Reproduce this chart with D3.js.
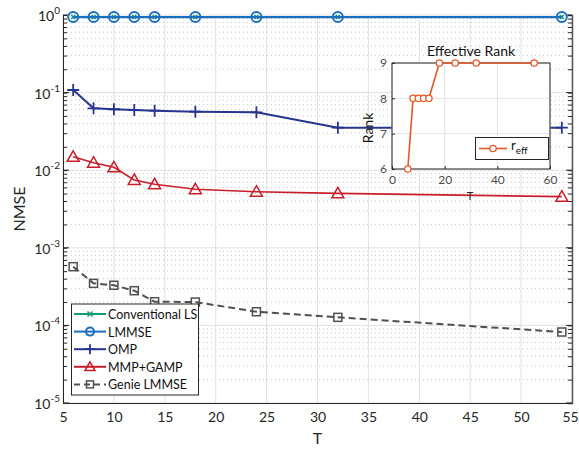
<!DOCTYPE html>
<html><head><meta charset="utf-8">
<script src="https://cdn.jsdelivr.net/npm/d3@7"></script>
<style>body{margin:0;background:#fff}svg{display:block}text{font-family:Lato,"Open Sans",sans-serif}</style>
</head><body>
<script>
const T = [6, 8, 10, 12, 14, 18, 24, 32, 54];
const convLS = [0.94, 0.94, 0.94, 0.94, 0.94, 0.94, 0.94, 0.94, 0.94];
const lmmse = [0.94, 0.94, 0.94, 0.94, 0.94, 0.94, 0.94, 0.94, 0.94];
const omp = [0.108, 0.0627, 0.061, 0.0597, 0.0585, 0.0568, 0.0557, 0.0353, 0.0353];
const mmpGamp = [0.0149, 0.0125, 0.0109, 0.00748, 0.00658, 0.00567, 0.00528, 0.00503, 0.00456];
const genie = [0.000571, 0.000348, 0.000329, 0.00028, 0.000202, 0.0002, 0.00015, 0.000127, 0.0000822];
const rankT = [6, 8, 10, 12, 14, 18, 24, 32, 54];
const rankEff = [6, 8, 8, 8, 8, 9, 9, 9, 9];
const xTicks = [5, 10, 15, 20, 25, 30, 35, 40, 45, 50, 55];
const yExps = [0, -1, -2, -3, -4, -5];
const seriesNames = ["Conventional LS", "LMMSE", "OMP", "MMP+GAMP", "Genie LMMSE"];
const insetXTicks = [0, 20, 40, 60];
const insetYTicks = [6, 7, 8, 9];

const W = 579, H = 452;
const L = 63, R = 572, Tp = 15, B = 403;
const FONT = "Lato";
const svg = d3.select("body").append("svg").attr("width", W).attr("height", H);
const x = d3.scaleLinear().domain([5, 55]).range([L, R]);
const y = d3.scaleLog().domain([1e-5, 1]).range([B, Tp]);

const g = svg.append("g");
const minor = [];
for (let e = -5; e < 0; e++) for (let k = 2; k <= 9; k++) minor.push(k * Math.pow(10, e));
g.selectAll(".mg").data(minor).enter().append("line")
  .attr("x1", L).attr("x2", R).attr("y1", d => y(d)).attr("y2", d => y(d))
  .attr("stroke", "#c8c8c8").attr("stroke-width", 1).attr("stroke-dasharray", "1,3");
g.selectAll(".xg").data(xTicks).enter().append("line")
  .attr("x1", d => x(d)).attr("x2", d => x(d)).attr("y1", Tp).attr("y2", B)
  .attr("stroke", "#e0e0e0").attr("stroke-width", 1);
g.selectAll(".yg").data(yExps).enter().append("line")
  .attr("x1", L).attr("x2", R).attr("y1", d => y(Math.pow(10, d))).attr("y2", d => y(Math.pow(10, d)))
  .attr("stroke", "#e0e0e0").attr("stroke-width", 1);

const xAx = d3.axisBottom(x).tickValues(xTicks).tickSize(0).tickPadding(9);
const xg = svg.append("g").attr("transform", `translate(0,${B})`).call(xAx);
xg.select(".domain").attr("stroke", "#262626").attr("stroke-width", 1);
xg.selectAll("text").attr("font-size", 14).attr("fill", "#262626").attr("font-family", FONT)
  .attr("dx", d => d === 55 ? -2 : 0);
const allY = minor.concat(yExps.map(e => Math.pow(10, e)));
const ygL = svg.append("g").attr("transform", `translate(${L},0)`).call(d3.axisLeft(y).tickValues(allY).tickSize(-4).tickFormat(""));
ygL.select(".domain").attr("stroke", "#262626");
ygL.selectAll(".tick line").attr("stroke", "#262626");
const ygR = svg.append("g").attr("transform", `translate(${R},0)`).call(d3.axisRight(y).tickValues(allY).tickSize(-4).tickFormat(""));
ygR.select(".domain").attr("stroke", "#555").attr("stroke-width", 1.5);
ygR.selectAll(".tick line").attr("stroke", "#262626");
svg.selectAll(".ymaj").data(yExps).enter().append("line")
  .attr("x1", L).attr("x2", L + 6).attr("y1", d => y(Math.pow(10, d))).attr("y2", d => y(Math.pow(10, d)))
  .attr("stroke", "#262626");
svg.selectAll(".ymajr").data(yExps).enter().append("line")
  .attr("x1", R - 6).attr("x2", R).attr("y1", d => y(Math.pow(10, d))).attr("y2", d => y(Math.pow(10, d)))
  .attr("stroke", "#262626");
const yl = svg.selectAll(".ytl").data(yExps).enter().append("text")
  .attr("x", L - 3).attr("y", d => y(Math.pow(10, d)) + 6)
  .attr("text-anchor", "end").attr("font-size", 14).attr("fill", "#262626");
yl.append("tspan").text("10");
yl.append("tspan").attr("dy", -7).attr("font-size", 10).text(d => String(d));

svg.append("text").attr("x", (L + R) / 2).attr("y", 444).attr("text-anchor", "middle")
  .attr("font-size", 16).attr("fill", "#262626").text("T");
svg.append("text").attr("transform", `translate(25,${(Tp + B) / 2}) rotate(-90)`)
  .attr("text-anchor", "middle").attr("font-size", 16).attr("fill", "#262626").text("NMSE");

const line = d3.line().x(d => x(d[0])).y(d => y(d[1]));
function pts(v) { return T.map((t, i) => [t, v[i]]); }

const cLS = "#139a72", cLM = "#1a6fc0", cOMP = "#27348f", cMMP = "#c81d2a", cG = "#505050";

function xMark(sel, c, s) {
  sel.append("path").attr("d", `M${-s},${-s}L${s},${s}M${-s},${s}L${s},${-s}`).attr("stroke", c).attr("stroke-width", 1.5).attr("fill", "none");
}
function circMark(sel, c, r) { sel.append("circle").attr("r", r).attr("fill", "none").attr("stroke", c).attr("stroke-width", 2); }
function plusMark(sel, c, s) {
  sel.append("path").attr("d", `M${-s},0L${s},0M0,${-s}L0,${s}`).attr("stroke", c).attr("stroke-width", 1.8).attr("fill", "none");
}
function triMark(sel, c, s) {
  sel.append("path").attr("d", `M0,${-s}L${s},${s * 0.75}L${-s},${s * 0.75}Z`).attr("stroke", c).attr("stroke-width", 1.5).attr("fill", "none");
}
function sqMark(sel, c, s) {
  sel.append("rect").attr("x", -s).attr("y", -s).attr("width", 2 * s).attr("height", 2 * s).attr("stroke", c).attr("stroke-width", 1.5).attr("fill", "none");
}

function drawSeries(v, c, mk, dash, w) {
  const p = pts(v);
  svg.append("path").datum(p).attr("d", line).attr("fill", "none").attr("stroke", c)
    .attr("stroke-width", w).attr("stroke-dasharray", dash || null);
  svg.selectAll(null).data(p).enter().append("g")
    .attr("transform", d => `translate(${x(d[0])},${y(d[1])})`).each(function () { mk(d3.select(this)); });
}
drawSeries(convLS, cLS, s => xMark(s, cLS, 2), null, 2);
drawSeries(lmmse, cLM, s => circMark(s, cLM, 5), null, 2.2);
drawSeries(omp, cOMP, s => plusMark(s, cOMP, 6), null, 2);
drawSeries(mmpGamp, cMMP, s => triMark(s, cMMP, 6), null, 1.6);
drawSeries(genie, cG, s => sqMark(s, cG, 4), "7,4", 2);

svg.append("text").attr("x", 470).attr("y", 200).attr("text-anchor", "middle").attr("font-size", 11)
  .attr("fill", "#262626").text("T");

const lg = svg.append("g");
lg.append("rect").attr("x", 71.5).attr("y", 304).attr("width", 127).attr("height", 91)
  .attr("fill", "#fff").attr("stroke", "#262626").attr("stroke-width", 1);
const legCols = [cLS, cLM, cOMP, cMMP, cG];
const legMk = [s => xMark(s, cLS, 2.5), s => circMark(s, cLM, 4), s => plusMark(s, cOMP, 5), s => triMark(s, cMMP, 5), s => sqMark(s, cG, 3.5)];
seriesNames.forEach((n, i) => {
  const yy = 314 + i * 17.6;
  lg.append("line").attr("x1", 74).attr("x2", 106).attr("y1", yy).attr("y2", yy)
    .attr("stroke", legCols[i]).attr("stroke-width", 2).attr("stroke-dasharray", i === 4 ? "6,4" : null);
  const m = lg.append("g").attr("transform", `translate(90,${yy})`);
  legMk[i](m);
  lg.append("text").attr("x", 108).attr("y", yy + 5).attr("font-size", 12.5).attr("fill", "#111").text(n);
});

const iL = 392, iR = 550, iT = 63, iB = 169;
const ix = d3.scaleLinear().domain([0, 60]).range([iL, iR]);
const iy = d3.scaleLinear().domain([6, 9]).range([iB, iT]);
svg.append("rect").attr("x", iL).attr("y", iT).attr("width", iR - iL).attr("height", iB - iT).attr("fill", "#fff");
svg.selectAll(".ixg").data(insetXTicks).enter().append("line")
  .attr("x1", d => ix(d)).attr("x2", d => ix(d)).attr("y1", iT).attr("y2", iB).attr("stroke", "#e3e3e3");
svg.selectAll(".iyg").data(insetYTicks).enter().append("line")
  .attr("x1", iL).attr("x2", iR).attr("y1", d => iy(d)).attr("y2", d => iy(d)).attr("stroke", "#e3e3e3");
svg.append("rect").attr("x", iL).attr("y", iT).attr("width", iR - iL).attr("height", iB - iT)
  .attr("fill", "none").attr("stroke", "#262626").attr("stroke-width", 1);
const ixa = svg.append("g").attr("transform", `translate(0,${iB})`)
  .call(d3.axisBottom(ix).tickValues(insetXTicks).tickSize(-3).tickPadding(6).tickFormat(d3.format("d")));
ixa.select(".domain").remove();
ixa.selectAll("line").attr("stroke", "#262626");
ixa.selectAll("text").attr("font-size", 12).attr("fill", "#4d4d4d").attr("font-family", FONT);
const iya = svg.append("g").attr("transform", `translate(${iL},0)`)
  .call(d3.axisLeft(iy).tickValues(insetYTicks).tickSize(-3).tickPadding(5).tickFormat(d3.format("d")));
iya.select(".domain").remove();
iya.selectAll("line").attr("stroke", "#262626");
iya.selectAll("text").attr("font-size", 12).attr("fill", "#4d4d4d").attr("font-family", FONT);
svg.append("text").attr("x", (iL + iR) / 2).attr("y", 56).attr("text-anchor", "middle")
  .attr("font-size", 14).attr("fill", "#111").text("Effective Rank");
svg.append("text").attr("transform", `translate(373,${(iT + iB) / 2 + 12}) rotate(-90)`)
  .attr("text-anchor", "middle").attr("font-size", 14).attr("fill", "#111").text("Rank");
const cR = "#e35a26";
const rp = rankT.map((t, i) => [t, rankEff[i]]);
svg.append("path").datum(rp).attr("d", d3.line().x(d => ix(d[0])).y(d => iy(d[1])))
  .attr("fill", "none").attr("stroke", cR).attr("stroke-width", 1.6);
svg.selectAll(".ip").data(rp).enter().append("circle").attr("cx", d => ix(d[0])).attr("cy", d => iy(d[1]))
  .attr("r", 3.2).attr("fill", "#fff").attr("stroke", cR).attr("stroke-width", 1.3);
svg.append("rect").attr("x", 475.5).attr("y", 137.5).attr("width", 73).attr("height", 22)
  .attr("fill", "#fff").attr("stroke", "#262626");
svg.append("line").attr("x1", 479).attr("x2", 507).attr("y1", 148.5).attr("y2", 148.5).attr("stroke", cR).attr("stroke-width", 1.6);
svg.append("circle").attr("cx", 493).attr("cy", 148.5).attr("r", 3.2).attr("fill", "#fff").attr("stroke", cR).attr("stroke-width", 1.3);
const rt = svg.append("text").attr("x", 511).attr("y", 150).attr("font-size", 13).attr("fill", "#111");
rt.append("tspan").text("r");
rt.append("tspan").attr("dy", 4).attr("font-size", 10).text("eff");
</script>
</body></html>
